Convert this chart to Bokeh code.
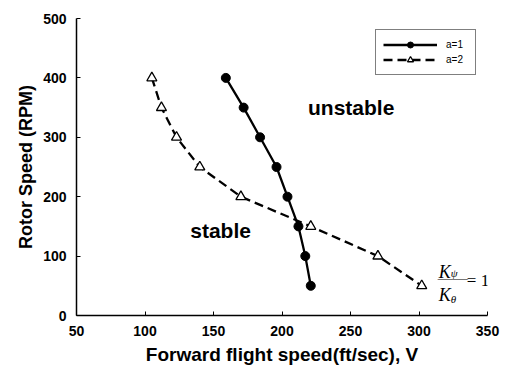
from bokeh.plotting import figure
from bokeh.models import Range1d, Legend, LegendItem, Label, FixedTicker
from bokeh.embed import file_html
from bokeh.resources import INLINE

# Stability boundary: forward flight speed (ft/sec) vs rotor speed (RPM)
rpm_a1 = [400, 350, 300, 250, 200, 150, 100, 50]
speed_a1 = [159, 172, 184, 196, 204, 212, 217, 221]

rpm_a2 = [400, 350, 300, 250, 200, 150, 100, 50]
speed_a2 = [105, 112, 123, 140, 170, 221, 270, 302]

x_ticks = [50, 100, 150, 200, 250, 300, 350]
y_ticks = [0, 100, 200, 300, 400, 500]

FONT = "Liberation Sans"
SERIF = "Liberation Serif"

p = figure(width=505, height=374, output_backend="svg", toolbar_location=None,
           x_range=Range1d(50, 350), y_range=Range1d(0, 500),
           min_border_left=76, min_border_right=18, min_border_top=18, min_border_bottom=59)
p.outline_line_color = None
p.grid.grid_line_color = None
p.background_fill_color = "white"
p.border_fill_color = "white"

for ax in (p.xaxis[0], p.yaxis[0]):
    ax.axis_line_color = "black"
    ax.axis_line_width = 1.5
    ax.major_tick_in = 4
    ax.major_tick_out = 0
    ax.minor_tick_line_color = None
    ax.major_tick_line_color = "black"
    ax.major_label_text_font = FONT
    ax.major_label_text_font_style = "bold"
    ax.major_label_text_font_size = "14px"
    ax.major_label_text_color = "black"
    ax.axis_label_text_font = FONT
    ax.axis_label_text_font_style = "bold"
    ax.axis_label_text_color = "black"

p.xaxis.axis_label_text_font_size = "19px"
p.yaxis.axis_label_text_font_size = "18px"
p.xaxis.ticker = FixedTicker(ticks=x_ticks)
p.yaxis.ticker = FixedTicker(ticks=y_ticks)
p.xaxis.major_label_standoff = 10
p.yaxis.major_label_standoff = 10
p.xaxis.axis_label = "Forward flight speed(ft/sec), V"
p.yaxis.axis_label = "Rotor Speed (RPM)"
p.xaxis.axis_label_standoff = 5
p.yaxis.axis_label_standoff = 4

l1 = p.line(speed_a1, rpm_a1, line_color="black", line_width=2.3)
s1 = p.scatter(speed_a1, rpm_a1, marker="circle", size=9, fill_color="black", line_color="black")

l2 = p.line(speed_a2, rpm_a2, line_color="black", line_width=2.3, line_dash="9 5")
s2 = p.scatter(speed_a2, rpm_a2, marker="triangle", size=10, fill_color="white",
               line_color="black", line_width=1.3)

legend = Legend(items=[LegendItem(label="a=1", renderers=[l1, s1]),
                       LegendItem(label="a=2", renderers=[l2, s2])],
                location=(299, 240), orientation="vertical",
                border_line_color="black", border_line_width=1.3,
                background_fill_color="white", background_fill_alpha=1,
                label_text_font=FONT, label_text_font_size="10px", label_text_color="black",
                glyph_width=54, glyph_height=15, label_standoff=9, label_width=22,
                label_height=15, padding=7, spacing=0, margin=0)
p.add_layout(legend, "center")

# Region labels
p.add_layout(Label(x=219, y=350, text="unstable", text_font=FONT, text_font_style="bold",
                   text_font_size="21px", text_baseline="middle", text_color="black"))
p.add_layout(Label(x=133, y=143, text="stable", text_font=FONT, text_font_style="bold",
                   text_font_size="21px", text_baseline="middle", text_color="black"))

# K_psi / K_theta = 1 annotation next to the a=2 curve
fx, fy = 313, 63.5
formula = [
    # text, x_offset, y_offset, size, italic, baseline
    ("K", 2, 6, "18px", True, "alphabetic"),
    ("ψ", 14, 5, "11px", True, "alphabetic"),
    ("K", 2, -17, "18px", True, "alphabetic"),
    ("θ", 14, -21, "11px", True, "alphabetic"),
    ("——", 1, 0, "15px", False, "middle"),
    ("= 1", 30, -3, "17px", False, "middle"),
]
for txt, dx, dy, size, italic, base in formula:
    p.add_layout(Label(x=fx, y=fy, x_offset=dx, y_offset=dy, text=txt, text_font=SERIF,
                       text_font_style="italic" if italic else "normal",
                       text_font_size=size, text_baseline=base, text_color="black"))

open("out.html", "w").write(file_html(p, INLINE))
